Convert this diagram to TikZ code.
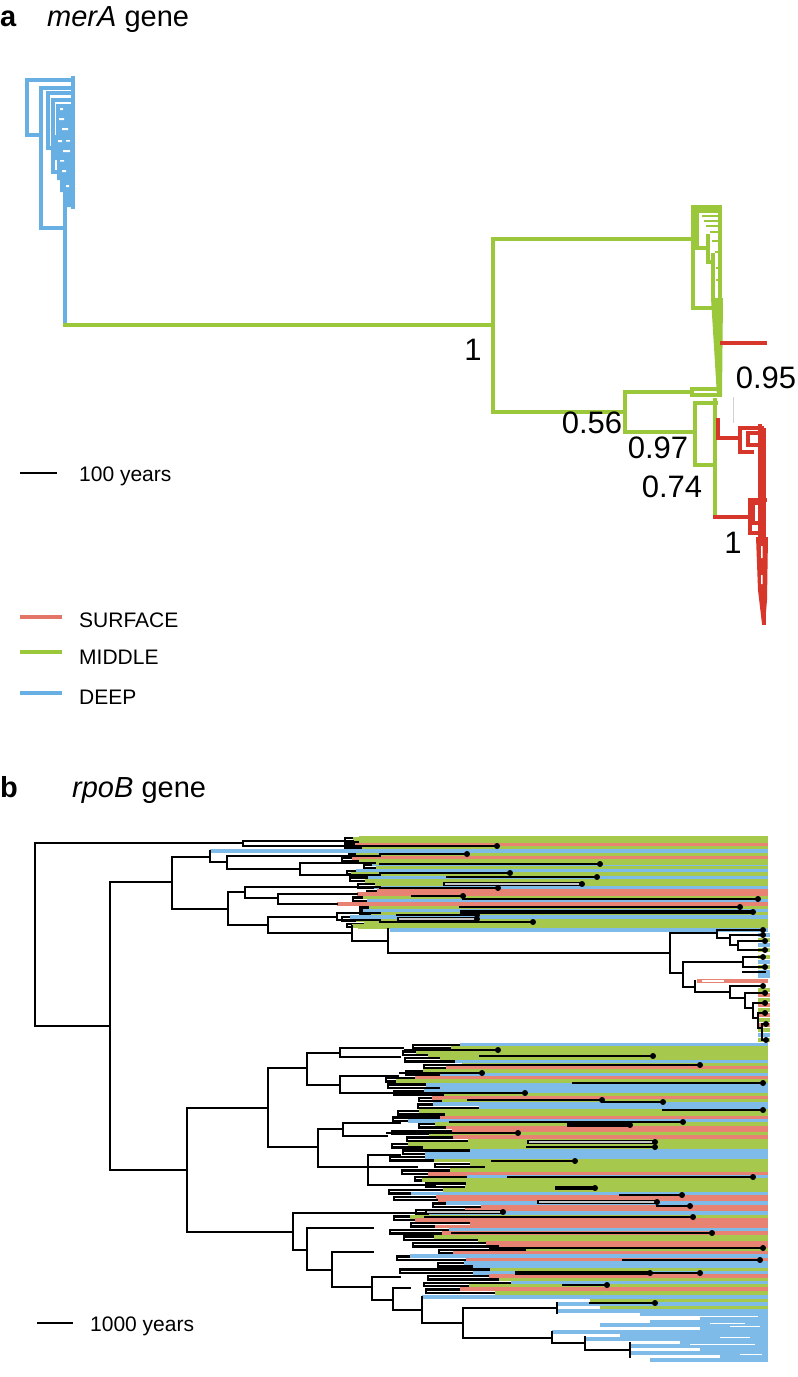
\documentclass[tikz,border=0pt]{standalone}
\usepackage{fontspec}
\setmainfont{Liberation Sans}
\definecolor{ag}{RGB}{155,199,58}
\definecolor{ar}{RGB}{214,55,42}
\definecolor{ab}{RGB}{104,176,228}
\definecolor{lr}{RGB}{226,116,104}
\definecolor{bg}{RGB}{166,201,77}
\definecolor{br}{RGB}{232,130,114}
\definecolor{bb}{RGB}{126,187,232}
\newcommand\pickcol[3]{\ifnum#1>#3\relax\def\pickedcol{bb}\else\ifnum#1>#2\relax\def\pickedcol{br}\else\def\pickedcol{bg}\fi\fi}
\begin{document}
\begin{tikzpicture}[x=1pt,y=-1pt,line join=miter,
  treeG/.style={draw=ag,line width=3.6pt,line cap=rect},
  treeR/.style={draw=ar,line width=3.6pt,line cap=rect},
  treeB/.style={draw=ab,line width=3.6pt,line cap=rect},
  blk/.style={draw=black,line width=2.8pt,line cap=rect},
  thinblk/.style={draw=black,line width=2.4pt},
  stripe/.style={line width=3.9pt},
  lbl/.style={font=\fontsize{31}{31}\selectfont,inner sep=0pt},
  ttl/.style={font=\fontsize{29}{29}\selectfont,inner sep=0pt,anchor=base west},
  leg/.style={font=\fontsize{21}{21}\selectfont,inner sep=0pt,anchor=base west}]
\useasboundingbox (0,0) rectangle (798,1377);
\fill[white] (0,0) rectangle (798,1377);

% ================= PANEL A =================
\node[ttl,font=\fontsize{29}{29}\selectfont\bfseries] (ta) at (0,26) {a};
\node[ttl] (tat) at (47,26) {\itshape merA\upshape\ gene};

% blue cluster
\draw[treeB] (73,80)--(27,80)--(27,135)--(41,135);
\draw[treeB] (73,88)--(41,88)--(41,228)--(65,228);
\draw[treeB] (65,185)--(65,325);
\draw[treeB] (73,78)--(73,207);
\draw[treeB] (73,93)--(48,93)--(48,148)--(54,148);
\draw[treeB] (73,100)--(53,100)--(53,172)--(58,172);
\fill[ab] (56,104)--(74,104)--(74,207)--(63,207)--(63,192)--(60,192)--(60,180)--(57,180)--(57,160)--(54,160)--(54,135)--(56,135)--cycle;
\fill[white] (59,118) rectangle (64,120) (62,128) rectangle (68,130) (58,140) rectangle (62,142)
  (63,150) rectangle (70,152) (60,160) rectangle (64,161.5) (62,170) rectangle (66,172)
  (66,185) rectangle (69,187) (60,108) rectangle (63,110) (66,140) rectangle (70,141.5);

% green
\draw[treeG] (65,325)--(493,325);
\draw[treeG] (693,239)--(493,239)--(493,412)--(625,412);
\draw[treeG] (720,207)--(693,207)--(693,308)--(716,308);
\draw[treeG] (720,207)--(720,300);
\draw[treeG] (720,211)--(697,211)--(697,248)--(708,248);
\draw[treeG] (708,236)--(708,262)--(713,262);
\draw[treeG] (713,255)--(713,300);
\draw[draw=ag,line width=2pt] (702,216)--(720,216) (704,221)--(718,221) (706,226)--(720,226)
  (710,232)--(720,232) (712,241)--(720,241) (715,252)--(720,252) (716,268)--(720,268) (716,280)--(720,280);
\fill[ag] (711,298)--(723,298)--(722,396)--(717,396)--cycle;
\draw[treeR] (722,343)--(765,343);
\draw[treeG] (720,389)--(692,389)--(692,395)--(720,395);
\draw[treeG] (692,392)--(625,392)--(625,432)--(695,432);
\draw[treeG] (716,403)--(695,403)--(695,465)--(712,465);
\draw[treeG] (715,400)--(715,517);
\draw[draw=gray!35,line width=1pt] (733,397)--(733,423);

% red
\draw[treeR] (718,420)--(718,438)--(740,438);
\draw[treeR] (762,428)--(740,428)--(740,452)--(752,452);
\draw[treeR] (760,433)--(748,433)--(748,445)--(760,445);
\draw[treeR] (760,426)--(760,555);
\draw[treeR] (764,430)--(764,623);
\draw[treeR] (715,517)--(750,517);
\draw[treeR] (765,500)--(750,500)--(750,533)--(758,533);
\draw[treeR] (758,503)--(753,503)--(753,523)--(758,523);
\fill[ar] (756,537)--(768,537)--(767,600)--(765,624)--(762,624)--(758,590)--cycle;
\fill[white] (761,546) rectangle (762.5,558) (761,575) rectangle (762.5,584);

% labels
\node[lbl] (n1) at (473,350) {1};
\node[lbl] (n056) at (592,423) {0.56};
\node[lbl] (n097) at (658,448) {0.97};
\node[lbl] (n074) at (672,487) {0.74};
\node[lbl] (n095) at (766,378) {0.95};
\node[lbl] (n1b) at (733,543) {1};

% legend
\draw[black,line width=2.8pt] (20,473)--(57,473);
\node[leg] (sa) at (79,481) {100 years};
\draw[lr,line width=3.8pt] (20,617)--(62,617);
\node[leg] (ls) at (79,627) {SURFACE};
\draw[ag,line width=3.8pt] (20,652)--(62,652);
\node[leg] (lm) at (79,664) {MIDDLE};
\draw[ab,line width=3.8pt] (20,693)--(62,693);
\node[leg] (ld) at (79,704) {DEEP};

% ================= PANEL B =================
\node[ttl,font=\fontsize{29}{29}\selectfont\bfseries] (tb) at (0,797) {b};
\node[ttl] (tbt) at (72,797) {\itshape rpoB\upshape\ gene};

% top band
\pgfmathsetseed{11}
\foreach \i in {0,...,13}{
  \pgfmathsetmacro\ya{838+6.6*\i}
  \pgfmathsetmacro\yb{\ya+3.3}
  \pgfmathrandominteger{\xb}{342}{368}
  \pgfmathrandominteger{\da}{3}{18}
  \pgfmathrandominteger{\db}{3}{18}
  \pgfmathrandominteger{\ca}{1}{10}
  \pgfmathrandominteger{\cb}{1}{10}
  \pickcol{\ca}{4}{7}\let\cola\pickedcol
  \pickcol{\cb}{4}{7}\let\colb\pickedcol
  \draw[stripe,draw=\cola] (\xb+\da,\ya) -- (768,\ya);
  \draw[stripe,draw=\colb] (\xb+\db,\yb) -- (768,\yb);
  \draw[thinblk] (\xb+\da,\ya) -- (\xb,\ya) -- (\xb,\yb) -- (\xb+\db,\yb);
}
\foreach \xs/\y/\c in {353/839/bg,210/851/bb,375/863/bg,357/894/br,337/904/br,352/926/bg,390/930/bb}{
  \draw[stripe,draw=\c] (\xs,\y)--(768,\y);
}

% bottom band B1
\pgfmathsetseed{23}
\foreach \i in {0,...,8}{
  \pgfmathsetmacro\ya{1045+6.6*\i}
  \pgfmathsetmacro\yb{\ya+3.3}
  \pgfmathrandominteger{\xb}{385}{425}
  \pgfmathrandominteger{\da}{5}{60}
  \pgfmathrandominteger{\db}{5}{60}
  \pgfmathrandominteger{\ca}{1}{10}
  \pgfmathrandominteger{\cb}{1}{10}
  \pickcol{\ca}{3}{6}\let\cola\pickedcol
  \pickcol{\cb}{3}{6}\let\colb\pickedcol
  \draw[stripe,draw=\cola] (\xb+\da,\ya) -- (768,\ya);
  \draw[stripe,draw=\colb] (\xb+\db,\yb) -- (768,\yb);
  \draw[thinblk] (\xb+\da,\ya) -- (\xb,\ya) -- (\xb,\yb) -- (\xb+\db,\yb);
}
% B2
\pgfmathsetseed{37}
\foreach \i in {0,...,18}{
  \pgfmathsetmacro\ya{1104.4+6.6*\i}
  \pgfmathsetmacro\yb{\ya+3.3}
  \pgfmathrandominteger{\xb}{385}{440}
  \pgfmathrandominteger{\da}{5}{70}
  \pgfmathrandominteger{\db}{5}{70}
  \pgfmathrandominteger{\ca}{1}{10}
  \pgfmathrandominteger{\cb}{1}{10}
  \pickcol{\ca}{4}{8}\let\cola\pickedcol
  \pickcol{\cb}{4}{8}\let\colb\pickedcol
  \draw[stripe,draw=\cola] (\xb+\da,\ya) -- (768,\ya);
  \draw[stripe,draw=\colb] (\xb+\db,\yb) -- (768,\yb);
  \draw[thinblk] (\xb+\da,\ya) -- (\xb,\ya) -- (\xb,\yb) -- (\xb+\db,\yb);
}
% B3
\pgfmathsetseed{51}
\foreach \i in {0,...,9}{
  \pgfmathsetmacro\ya{1230+6.6*\i}
  \pgfmathsetmacro\yb{\ya+3.3}
  \pgfmathrandominteger{\xb}{390}{440}
  \pgfmathrandominteger{\da}{5}{90}
  \pgfmathrandominteger{\db}{5}{90}
  \pgfmathrandominteger{\ca}{1}{10}
  \pgfmathrandominteger{\cb}{1}{10}
  \pickcol{\ca}{3}{6}\let\cola\pickedcol
  \pickcol{\cb}{3}{6}\let\colb\pickedcol
  \draw[stripe,draw=\cola] (\xb+\da,\ya) -- (768,\ya);
  \draw[stripe,draw=\colb] (\xb+\db,\yb) -- (768,\yb);
  \draw[thinblk] (\xb+\da,\ya) -- (\xb,\ya) -- (\xb,\yb) -- (\xb+\db,\yb);
}
% B4 (deep clade)
\foreach \xs/\y/\c in {422/1297/bb,590/1300.5/bg,557/1304/bb,600/1307.5/bg,557/1311/bb,640/1314.5/bb,
  700/1318/bb,650/1321.5/bb,600/1325/bb,700/1328.5/bb,552/1332/bb,620/1335.5/bb,585/1339/bb,
  680/1342.5/bb,630/1346/bb,700/1349.5/bb,630/1353/bb,720/1356.5/bb,650/1360/bb}{
  \draw[stripe,draw=\c] (\xs,\y)--(768,\y);
}
\draw[white,line width=1.2pt] (700,1316.2)--(758,1316.2) (730,1326.7)--(760,1326.7) (690,1344.2)--(755,1344.2)
  (740,1354.7)--(762,1354.7) (720,1337.3)--(750,1337.3) (710,1323.4)--(745,1323.4);

% black clade tips
\foreach \y/\c in {935/bb,940/bg,945/bb,950/bg,957/bg,962/bb,967/bg,972/bb,976/bb,990/bg,995/br,1000/bg,1005/br,1010/bg,1015/br,1020/bg,1025/br,1030/bg,1035/bb,1040/bg}{
  \draw[line width=3.4pt,draw=\c] (758,\y)--(770,\y);
}
\draw[stripe,draw=br] (697,981)--(768,981);
\draw[white,line width=1.2pt] (702,981)--(724,981);

% black segments in the band
\foreach \a/\b/\y in {380/497/846,380/467/854,380/600/864,380/510/873,447/597/877,380/498/888,412/463/896,
  463/758/899,460/740/907,397/477/915,380/533/922,
  405/498/1050,480/653/1056,453/700/1065,400/482/1073,573/763/1083,390/525/1093,468/602/1100,602/663/1102,
  663/763/1110,450/683/1122,387/518/1133,527/655/1147,492/575/1161,508/753/1177,620/682/1195,657/690/1206,
  425/693/1217,452/712/1233,490/763/1248,623/760/1260,650/700/1273,563/607/1285,590/655/1303}{
  \draw[blk] (\a,\y)--(\b,\y);
  \fill (\b,\y) circle[radius=3pt];
}
\foreach \a/\b/\y in {460/753/912,567/630/1125,555/595/1188,515/650/1273}{
  \draw[black,line width=4.6pt] (\a,\y)--(\b,\y);
  \fill (\b,\y) circle[radius=3pt];
}
\foreach \a/\b/\y in {443/582/884,397/477/919,527/655/1142,537/657/1202,425/503/1212}{
  \draw[black,line width=4.6pt] (\a,\y)--(\b,\y);
  \draw[gray!45,line width=1.8pt] (\a+2,\y)--(\b-2,\y);
  \fill (\b,\y) circle[radius=3pt];
}

% black clade
\draw[blk] (388,953)--(670,953);
\draw[blk] (670,933)--(670,973);
\draw[blk] (670,933)--(717,933);
\draw[blk] (763,930)--(717,930)--(717,938)--(730,938);
\draw[blk] (763,935)--(730,935)--(730,945)--(738,945);
\draw[blk] (765,941)--(738,941)--(738,950)--(765,950);
\draw[blk] (670,973)--(683,973);
\draw[blk] (683,962)--(683,987);
\draw[blk] (683,962)--(743,962);
\draw[blk] (763,957)--(743,957)--(743,967)--(765,967);
\draw[blk] (743,972)--(765,972);
\draw[blk] (683,987)--(695,987);
\draw[blk] (695,981)--(695,992);
\draw[blk] (695,992)--(730,992);
\draw[blk] (763,986)--(730,986)--(730,998)--(745,998);
\draw[blk] (765,993)--(745,993)--(745,1008)--(753,1008);
\draw[blk] (765,1003)--(753,1003)--(753,1018)--(758,1018);
\draw[blk] (765,1013)--(758,1013)--(758,1028)--(762,1028);
\draw[blk] (766,1024)--(762,1024)--(762,1040)--(766,1040);
\foreach \x/\y in {763/930,763/935,765/941,765/950,763/957,765/967,763/986,765/993,765/1003,765/1013,766/1024,766/1040}{
  \fill (\x,\y) circle[radius=3pt];
}

% skeleton upper
\draw[blk] (243,843)--(35,843)--(35,1026)--(110,1026);
\draw[blk] (243,841)--(243,846);
\draw[blk] (243,841)--(353,841);
\draw[blk] (243,846)--(380,846);
\draw[blk] (110,882)--(110,1170);
\draw[blk] (110,882)--(172,882);
\draw[blk] (172,857)--(172,909);
\draw[blk] (172,857)--(210,857);
\draw[blk] (210,851)--(210,862);
\draw[blk] (210,862)--(227,862);
\draw[blk] (227,856)--(227,869);
\draw[blk] (227,856)--(380,856);
\draw[blk] (227,869)--(300,869);
\draw[blk] (300,863)--(300,875);
\draw[blk] (300,863)--(375,863);
\draw[blk] (300,875)--(380,875);
\draw[blk] (172,909)--(228,909);
\draw[blk] (228,892)--(228,925);
\draw[blk] (228,892)--(245,892);
\draw[blk] (245,887)--(245,898);
\draw[blk] (245,887)--(380,887);
\draw[blk] (245,898)--(278,898);
\draw[blk] (278,894)--(278,904);
\draw[blk] (278,894)--(357,894);
\draw[blk] (278,904)--(337,904);
\draw[blk] (228,925)--(268,925);
\draw[blk] (268,917)--(268,933);
\draw[blk] (268,917)--(337,917);
\draw[blk] (337,913)--(337,920);
\draw[blk] (337,913)--(380,913);
\draw[blk] (337,920)--(380,920);
\draw[blk] (268,933)--(352,933);
\draw[blk] (352,926)--(352,941);
\draw[blk] (352,941)--(388,941);
\draw[blk] (388,929)--(388,953);
% skeleton lower
\draw[blk] (110,1170)--(187,1170);
\draw[blk] (187,1108)--(187,1232);
\draw[blk] (187,1108)--(268,1108);
\draw[blk] (268,1068)--(268,1147);
\draw[blk] (268,1068)--(307,1068);
\draw[blk] (307,1053)--(307,1085);
\draw[blk] (307,1053)--(340,1053);
\draw[blk] (340,1048)--(340,1057);
\draw[blk] (340,1048)--(403,1048);
\draw[blk] (340,1057)--(400,1057);
\draw[blk] (307,1085)--(340,1085);
\draw[blk] (340,1076)--(340,1093);
\draw[blk] (340,1076)--(398,1076);
\draw[blk] (340,1093)--(390,1093);
\draw[blk] (268,1147)--(318,1147);
\draw[blk] (318,1129)--(318,1167);
\draw[blk] (318,1129)--(343,1129);
\draw[blk] (343,1123)--(343,1136);
\draw[blk] (343,1123)--(400,1123);
\draw[blk] (343,1136)--(387,1136);
\draw[blk] (318,1167)--(368,1167);
\draw[blk] (368,1155)--(368,1185);
\draw[blk] (368,1155)--(400,1155);
\draw[blk] (368,1167)--(417,1167);
\draw[blk] (368,1185)--(435,1185);
\draw[blk] (187,1232)--(293,1232);
\draw[blk] (293,1213)--(293,1250);
\draw[blk] (293,1213)--(423,1213);
\draw[blk] (293,1250)--(307,1250);
\draw[blk] (307,1228)--(307,1270);
\draw[blk] (307,1228)--(373,1228);
\draw[blk] (307,1270)--(332,1270);
\draw[blk] (332,1252)--(332,1287);
\draw[blk] (332,1252)--(373,1252);
\draw[blk] (332,1287)--(372,1287);
\draw[blk] (372,1277)--(372,1300);
\draw[blk] (372,1277)--(400,1277);
\draw[blk] (372,1300)--(393,1300);
\draw[blk] (393,1288)--(393,1310);
\draw[blk] (393,1288)--(410,1288);
\draw[blk] (393,1310)--(422,1310);
\draw[blk] (422,1297)--(422,1323);
\draw[blk] (422,1323)--(463,1323);
\draw[blk] (463,1308)--(463,1338);
\draw[blk] (463,1308)--(557,1308);
\draw[blk] (557,1303)--(557,1313);
\draw[blk] (463,1338)--(552,1338);
\draw[blk] (552,1332)--(552,1343);
\draw[blk] (552,1343)--(585,1343);
\draw[blk] (585,1337)--(585,1350);
\draw[blk] (585,1350)--(630,1350);
\draw[blk] (630,1343)--(630,1357);

% scale bar b
\draw[black,line width=2.8pt] (37,1323)--(73,1323);
\node[leg] (sb) at (90,1331) {1000 years};
\end{tikzpicture}
\end{document}
